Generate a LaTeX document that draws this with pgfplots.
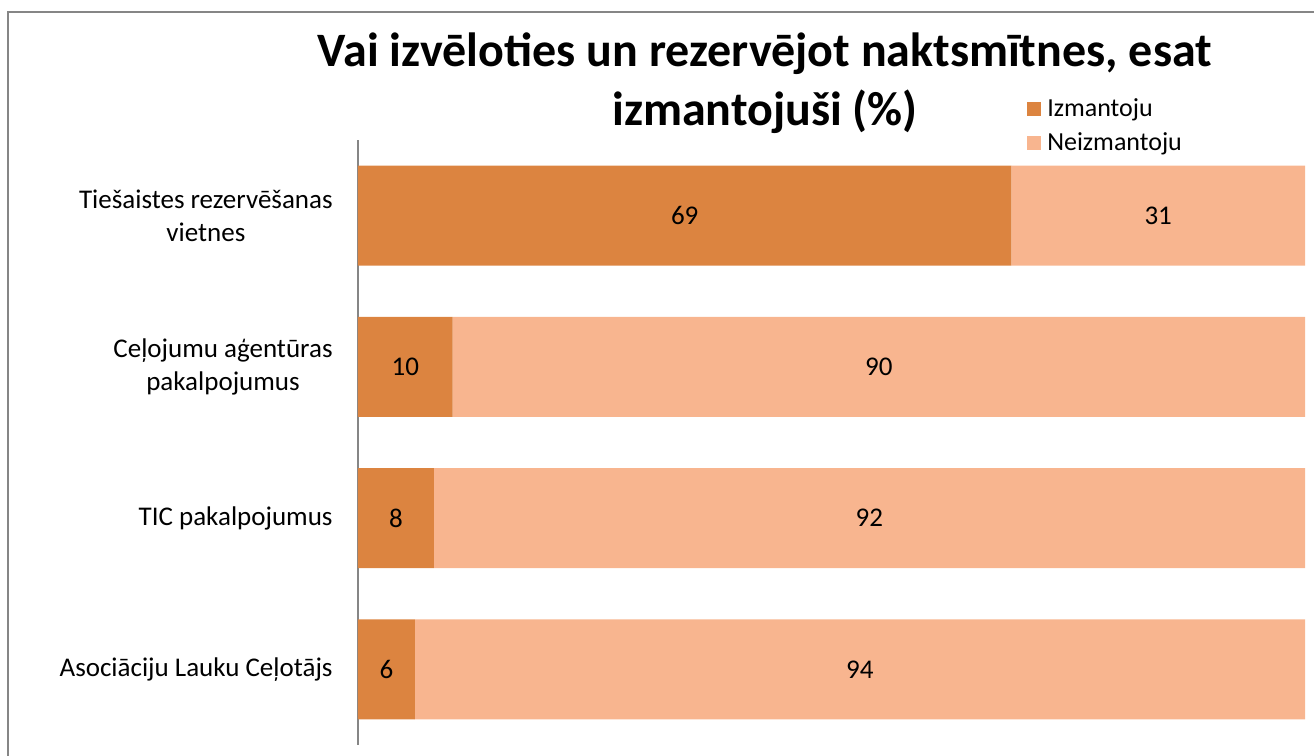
\documentclass[border=0pt]{standalone}
\usepackage{pgfplots}
\pgfplotsset{compat=1.18}
\usepackage{pgfplotstable}
\usepackage{fontspec}
\setmainfont{Carlito}
\definecolor{cdark}{RGB}{220,132,64}
\definecolor{clight}{RGB}{248,181,143}
\definecolor{cgray}{RGB}{134,134,134}

\pgfplotstableread{
y a b
0 69 31
1 10 90
2 8 92
3 6 94
}\data

\begin{document}
\begin{tikzpicture}
\useasboundingbox (0,0) rectangle (657pt,-378pt);
\draw[cgray, line width=0.75pt] (4pt,-380pt) -- (4pt,-6pt) -- (660pt,-6pt);
\node[font=\fontsize{24}{28}\selectfont\bfseries, anchor=base] at (382.5pt,-33pt) {Vai izvēloties un rezervējot naktsmītnes, esat};
\node[font=\fontsize{24}{28}\selectfont\bfseries, anchor=base] at (382.5pt,-62.5pt) {izmantojuši (\%)};
\begin{axis}[
  at={(179pt,-372.5pt)}, anchor=south west,
  scale only axis, width=473.5pt, height=302.5pt,
  xbar stacked, bar width=50pt,
  xmin=0, xmax=100, ymin=-0.5, ymax=3.5, y dir=reverse,
  axis x line=none, axis y line*=left,
  y axis line style={cgray, line width=0.6pt},
  ytick={0,1,2,3},
  yticklabels={{Tiešaistes rezervēšanas\\vietnes},{Ceļojumu aģentūras\\pakalpojumus},{TIC pakalpojumus},{Asociāciju Lauku Ceļotājs}},
  yticklabel style={align=center, font=\fontsize{13.5}{16.5}\selectfont, inner sep=0pt, xshift=-12.5pt},
  major tick length=0pt,
  /pgf/number format/assume math mode=true,
  legend style={draw=none, fill=none, at={(0.7063,1.0793)}, anchor=north west,
    font=\fontsize{13}{15}\selectfont, row sep=0pt, inner sep=0pt,
    nodes={text height=9.5pt, text depth=2.5pt, inner ysep=2.5pt, inner xsep=1.5pt}},
  legend cell align=left,
  legend image code/.code={\fill[#1] (0pt,-3.5pt) rectangle (7pt,3.5pt); \path (8.5pt,0pt);},
]
\addplot[fill=cdark, draw=none, nodes near coords, point meta=\thisrow{a},
  every node near coord/.append style={anchor=center, font=\fontsize{13.5}{16}\selectfont, text=black}]
  table[x=a, y=y] {\data};
\addlegendentry{Izmantoju}
\addplot[fill=clight, draw=none, nodes near coords, point meta=\thisrow{b},
  every node near coord/.append style={anchor=center, font=\fontsize{13.5}{16}\selectfont, text=black}]
  table[x=b, y=y] {\data};
\addlegendentry{Neizmantoju}
\end{axis}
\end{tikzpicture}
\end{document}
